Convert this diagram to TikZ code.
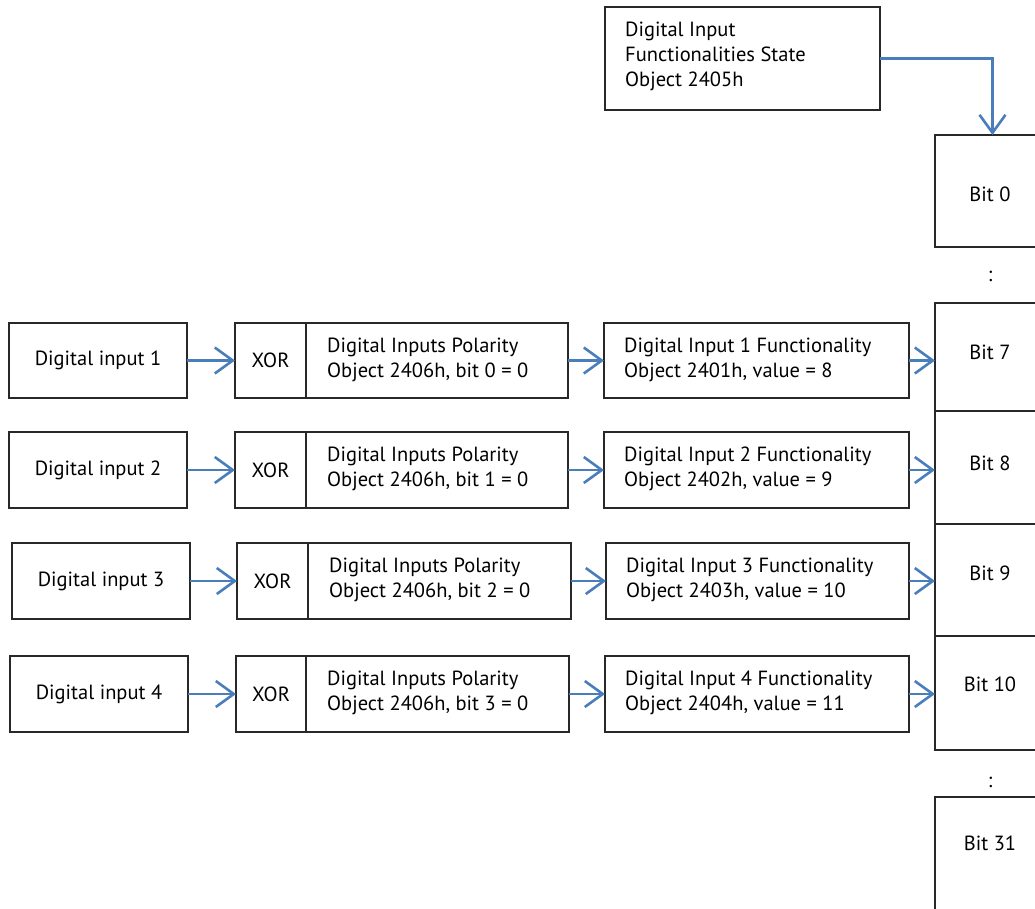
\documentclass[tikz,border=0pt]{standalone}
\usepackage{fontspec}
\setmainfont{PT Sans}
\usetikzlibrary{arrows.meta}
\definecolor{arrowblue}{RGB}{74,126,187}
\definecolor{boxline}{RGB}{40,40,40}
\begin{document}
\begin{tikzpicture}[x=1pt,y=-1pt,
  box/.style={draw=boxline, line width=1.3pt, inner sep=0pt, outer sep=0pt},
  txt/.style={font=\fontsize{20.5}{25}\selectfont, inner sep=0pt},
  ltxt/.style={txt, align=left, anchor=west},
  conn/.style={draw=arrowblue, line width=2.4pt, -{Straight Barb[length=18pt,width=26pt,line width=2.6pt]}}]
\useasboundingbox (0,0) rectangle (1035,908);
\clip (0,0) rectangle (1035,908);

% top box
\node[box, minimum width=275pt, minimum height=103pt] (state) at (742.5,58.5) {};
\node[ltxt] (statetxt) at (625,56) {Digital Input\\Functionalities State\\Object 2405h};

% bit column
\node[box, minimum width=115pt, minimum height=112pt] (b0) at (992.5,191) {};
\node[txt] (b0t) at (990,194) {Bit 0};
\node[txt] (dots1) at (990,276) {:};
\node[box, minimum width=115pt, minimum height=108pt] (b7) at (992.5,357) {};
\node[txt] (b7t) at (990,352) {Bit 7};
\node[box, minimum width=115pt, minimum height=113pt] (b8) at (992.5,467.5) {};
\node[txt] (b8t) at (990,463) {Bit 8};
\node[box, minimum width=115pt, minimum height=112pt] (b9) at (992.5,580) {};
\node[txt] (b9t) at (990,573) {Bit 9};
\node[box, minimum width=115pt, minimum height=114pt] (b10) at (992.5,693) {};
\node[txt] (b10t) at (990,684) {Bit 10};
\node[txt] (dots2) at (990,782) {:};
\node[box, minimum width=115pt, minimum height=130pt] (b31) at (992.5,862) {};
\node[txt] (b31t) at (990,843) {Bit 31};

\draw[conn] (state.east) -| (b0.north);

\foreach \r/\yc/\h/\il/\xl/\dv/\pr/\fl/\fr/\n/\pb/\obj/\val/\tb in {
  1/360.5/75/9/235/306/568/604/909/1/0/2401/8/b7,
  2/470/76/9/235/306/568/604/909/2/1/2402/9/b8,
  3/581/76/12/237/308/571/606/909/3/2/2403/10/b9,
  4/694/76/10/236/306/569/605/909/4/3/2404/11/b10}
{
  \pgfmathsetmacro{\inc}{(\il+\il+178)/2}
  \pgfmathsetmacro{\xc}{(\xl+\dv)/2}
  \pgfmathsetmacro{\xw}{\dv-\xl}
  \pgfmathsetmacro{\pc}{(\dv+\pr)/2}
  \pgfmathsetmacro{\pw}{\pr-\dv}
  \pgfmathsetmacro{\fc}{(\fl+\fr)/2}
  \pgfmathsetmacro{\fw}{\fr-\fl}
  \node[box, minimum width=178pt, minimum height=\h pt, txt] (in\r) at (\inc,\yc) {Digital input \n};
  \node[box, minimum width=\xw pt, minimum height=\h pt, txt] (xor\r) at (\xc,\yc) {XOR};
  \node[box, minimum width=\pw pt, minimum height=\h pt] (pol\r) at (\pc,\yc) {};
  \node[ltxt] (polt\r) at (\dv+21,\yc-1) {Digital Inputs Polarity\\Object 2406h, bit \pb\ = 0};
  \node[box, minimum width=\fw pt, minimum height=\h pt] (fn\r) at (\fc,\yc) {};
  \node[ltxt] (fnt\r) at (\fl+20,\yc-1) {Digital Input \n\ Functionality\\Object \obj h, value = \val};
  \draw[conn] (in\r.east) -- (xor\r.west);
  \draw[conn] (pol\r.east) -- (fn\r.west);
  \draw[conn] (fn\r.east) -- (fn\r.east -| \tb.west);
}
\end{tikzpicture}
\end{document}
